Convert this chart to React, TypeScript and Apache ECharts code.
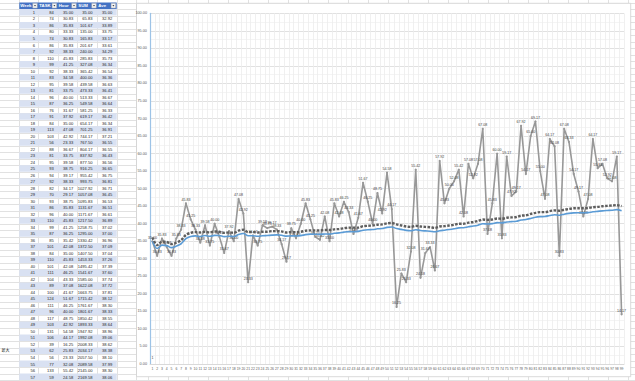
import React, { useEffect, useRef } from "react";
import * as echarts from "echarts";

// ---------- data ----------
const weeks = Array.from({ length: 99 }, (_, i) => String(i + 1));
const headers = ["Week", "TASK", "Hour", "SUM", "Ave"];
const noteText = "最大";

// TASK column (visible table rows 1-58)
const tasks = [
  84, 74, 86, 80, 74, 86, 92, 110, 99, 92,
  83, 95, 81, 96, 87, 76, 91, 84, 113, 103,
  56, 88, 81, 95, 93, 94, 92, 82, 70, 93,
  86, 96, 110, 99, 87, 85, 101, 84, 110, 101,
  111, 104, 89, 100, 124, 111, 96, 117, 103, 131,
  106, 39, 62, 56, 77, 133, 59, 76,
];

// Hour per week (grey line, weeks 1-99)
const hours = [
  35.0, 30.83, 35.83, 33.33, 30.83, 35.83, 38.33, 45.83, 41.25, 38.33,
  34.58, 39.58, 33.75, 40.0, 36.25, 31.67, 37.92, 35.0, 47.08, 42.92,
  23.33, 36.67, 33.75, 39.58, 38.75, 39.17, 38.33, 34.17, 29.17, 38.75,
  35.83, 40.0, 45.83, 41.25, 36.25, 35.42, 42.08, 35.0, 45.83, 42.08,
  46.25, 43.33, 37.08, 41.67, 51.67, 46.25, 40.0, 48.75, 42.92, 54.58,
  44.17, 16.25, 25.83, 23.33, 32.08, 55.42, 24.58, 31.67, 33.33, 26.67,
  57.92, 45.83, 50.0, 52.08, 55.42, 42.08, 57.08, 52.92, 57.08, 67.08,
  37.08, 45.83, 60.0, 35.83, 59.17, 47.92, 49.17, 67.92, 54.17, 65.0,
  69.17, 55.0, 47.08, 64.17, 62.08, 30.83, 67.08, 63.33, 54.17, 49.17,
  42.08, 47.08, 64.17, 55.83, 57.08, 52.92, 52.08, 59.17, 14.17,
];

// SUM column (rows 1-58)
const sums = [
  35.0, 65.83, 101.67, 135.0, 165.83, 201.67, 240.0, 285.83, 327.08, 365.42,
  400.0, 439.58, 473.33, 513.33, 549.58, 581.25, 619.17, 654.17, 701.25, 744.17,
  767.5, 804.17, 837.92, 877.5, 916.25, 955.42, 993.75, 1027.92, 1057.08, 1095.83,
  1131.67, 1171.67, 1217.5, 1258.75, 1295.0, 1330.42, 1372.5, 1407.5, 1453.33, 1495.42,
  1541.67, 1585.0, 1622.08, 1663.75, 1715.42, 1761.67, 1801.67, 1850.42, 1893.33, 1947.92,
  1992.08, 2008.33, 2034.17, 2057.5, 2089.58, 2145.0, 2169.58, 2201.25,
];

// Ave column (rows 1-58) - blue line
const aves = [
  35.0, 32.92, 33.89, 33.75, 33.17, 33.61, 34.29, 35.73, 36.34, 36.54,
  36.36, 36.63, 36.41, 36.67, 36.64, 36.33, 36.42, 36.34, 36.91, 37.21,
  36.55, 36.55, 36.43, 36.56, 36.65, 36.75, 36.81, 36.71, 36.45, 36.53,
  36.51, 36.61, 36.89, 37.02, 37.0, 36.96, 37.09, 37.04, 37.26, 37.39,
  37.6, 37.74, 37.72, 37.81, 38.12, 38.3, 38.33, 38.55, 38.64, 38.96,
  39.06, 38.62, 38.38, 38.1, 37.99, 38.3, 38.06, 37.95,
];
// Ave for weeks 59-99 (blue line continues below the visible table)
const avesTail = [
  37.87, 37.69, 38.02, 38.15, 38.33, 38.55, 38.81, 38.86, 39.13, 39.33,
  39.59, 39.98, 39.94, 40.02, 40.3, 40.24, 40.49, 40.59, 40.7, 41.05,
  41.21, 41.51, 41.85, 42.01, 42.07, 42.34, 42.57, 42.43, 42.72, 42.95,
  43.08, 43.14, 43.13, 43.17, 43.4, 43.53, 43.67, 43.77, 43.86, 44.01,
  43.71,
];

// dark dashed line (weeks 1-99)
const dashed = [
  36.1, 33.9, 34.9, 34.8, 34.2, 34.6, 35.3, 36.8, 37.4, 37.6,
  37.5, 37.7, 37.5, 37.8, 37.7, 37.4, 37.5, 37.4, 38.0, 38.3,
  37.6, 37.6, 37.5, 37.7, 37.7, 37.9, 37.9, 37.8, 37.5, 37.6,
  37.6, 37.7, 38.0, 38.1, 38.1, 38.1, 38.2, 38.2, 38.4, 38.5,
  38.7, 38.9, 38.9, 38.9, 39.3, 39.4, 39.5, 39.7, 39.8, 40.1,
  40.2, 39.8, 39.5, 39.2, 39.1, 39.4, 39.2, 39.1, 39.0, 38.8,
  39.2, 39.3, 39.5, 39.7, 40.0, 40.0, 40.3, 40.5, 40.8, 41.2,
  41.1, 41.2, 41.5, 41.4, 41.7, 41.8, 41.9, 42.3, 42.4, 42.8,
  43.1, 43.3, 43.3, 43.6, 43.8, 43.7, 44.0, 44.2, 44.4, 44.4,
  44.4, 44.5, 44.7, 44.8, 45.0, 45.1, 45.2, 45.3, 45.0,
];

const singleMark = [1];

// ---------- layout (sheet) ----------
const FONT = "'Liberation Sans', 'Noto Sans CJK JP', sans-serif";
const W = 635;
const H = 381;
const colEdges = [19.3, 38.3, 57.7, 77.3, 97.3, 116.7];
const textRight = [35, 53.8, 73.2, 92.6, 112.2];
const rowTop = 2.5;
const rowH = 6.51;

function tableRows(): string[][] {
  return tasks.map((t, i) => [
    weeks[i],
    String(t),
    hours[i].toFixed(2),
    sums[i].toFixed(2),
    aves[i].toFixed(2),
  ]);
}

function buildGraphics() {
  const els: any[] = [];
  els.push({ type: "rect", z: -20, silent: true, shape: { x: 0, y: 0, width: W, height: H }, style: { fill: "#ffffff" } });
  // sheet gridlines
  for (let k = 0; k <= 60; k++) {
    const y = Math.round(rowTop + k * rowH) + 0.5;
    els.push({ type: "line", z: -19, silent: true, shape: { x1: 0, y1: y, x2: W, y2: y }, style: { stroke: "#E1E1E1", lineWidth: 1 } });
  }
  const vCols = [...colEdges, 136.3];
  for (let x = 148.3; x < W; x += 20) vCols.push(x);
  vCols.forEach((x) => {
    const xx = Math.round(x) + 0.5;
    els.push({ type: "line", z: -19, silent: true, shape: { x1: xx, y1: 0, x2: xx, y2: H }, style: { stroke: "#E1E1E1", lineWidth: 1 } });
  });
  // table header
  const hy = rowTop;
  els.push({ type: "rect", z: -18, silent: true, shape: { x: colEdges[0], y: hy, width: colEdges[5] - colEdges[0], height: rowH }, style: { fill: "#4472C4" } });
  headers.forEach((h, i) => {
    els.push({ type: "text", z: -17, silent: true, style: { x: colEdges[i] + 1, y: hy + rowH / 2 + 0.2, text: h, fill: "#ffffff", fontSize: 4.3, fontWeight: "bold", fontFamily: FONT, verticalAlign: "middle", align: "left" } });
    const bx = colEdges[i + 1] - 5.6;
    els.push({ type: "rect", z: -17, silent: true, shape: { x: bx, y: hy + 0.8, width: 4.6, height: 4.8 }, style: { fill: "#F4F4F4", stroke: "#9A9A9A", lineWidth: 0.4 } });
    els.push({ type: "polygon", z: -16, silent: true, shape: { points: [[bx + 1.3, hy + 2.6], [bx + 3.3, hy + 2.6], [bx + 2.3, hy + 3.9]] }, style: { fill: "#444" } });
  });
  // table rows
  tableRows().forEach((row, r) => {
    const y0 = rowTop + (r + 1) * rowH;
    if (r % 2 === 0) {
      els.push({ type: "rect", z: -18, silent: true, shape: { x: colEdges[0], y: y0, width: colEdges[5] - colEdges[0], height: rowH }, style: { fill: "#D9E1F2" } });
    }
    row.forEach((t, c) => {
      els.push({ type: "text", z: -17, silent: true, style: { x: textRight[c], y: y0 + rowH / 2 + 0.2, text: t, fill: "#262626", fontSize: 4.1, fontFamily: FONT, align: "right", verticalAlign: "middle" } });
    });
  });
  // note in column A (row 53)
  els.push({ type: "text", z: -17, silent: true, style: { x: 1.5, y: rowTop + 53 * rowH + rowH / 2, text: noteText, fill: "#262626", fontSize: 4, fontFamily: FONT, align: "left", verticalAlign: "middle" } });
  // chart area
  els.push({ type: "rect", z: -5, silent: true, shape: { x: 136.5, y: 3.3, width: 494.2, height: 373.4 }, style: { fill: "#ffffff", stroke: "#CFCFCF", lineWidth: 0.8 } });
  return els;
}

function buildOption(): any {
  const aveLine = [...aves, ...avesTail];
  const markData = weeks.map((_, i) => (i < singleMark.length ? singleMark[i] : null));
  return {
    animation: false,
    backgroundColor: "transparent",
    textStyle: { fontFamily: FONT },
    graphic: { elements: buildGraphics() },
    grid: { left: 150, right: 11, top: 13.3, bottom: 17, containLabel: false },
    xAxis: {
      type: "category",
      data: weeks,
      boundaryGap: true,
      axisLine: { show: true, lineStyle: { color: "#D9D9D9", width: 1 } },
      axisTick: { show: false },
      axisLabel: { interval: 0, fontSize: 3.4, color: "#595959", margin: 3.5, fontFamily: FONT },
      splitLine: { show: true, interval: 0, lineStyle: { color: "#ECECEC", width: 0.8 } },
    },
    yAxis: {
      type: "value",
      min: 0,
      max: 100,
      interval: 5,
      axisLine: { show: true, lineStyle: { color: "#9DC3E6", width: 1.2 } },
      axisTick: { show: false },
      axisLabel: { fontSize: 3.8, color: "#595959", margin: 3, fontFamily: FONT, formatter: (v: number) => v.toFixed(2) },
      splitLine: { show: true, lineStyle: { color: "#D9D9D9", width: 0.8 } },
      minorTick: { show: false, splitNumber: 2 },
      minorSplitLine: { show: true, lineStyle: { color: "#EDEDED", width: 0.6 } },
    },
    series: [
      {
        name: "Hour",
        type: "line",
        data: hours,
        z: 3,
        symbol: "circle",
        symbolSize: 2.2,
        itemStyle: { color: "#989898" },
        lineStyle: { color: "#989898", width: 1.6 },
        label: {
          show: true,
          position: "top",
          distance: 0.8,
          fontSize: 3.6,
          color: "#404040",
          fontFamily: FONT,
          formatter: (p: any) => Number(p.value).toFixed(2),
        },
      },
      {
        name: "Ave",
        type: "line",
        data: aveLine,
        z: 4,
        smooth: 0.3,
        symbol: "none",
        lineStyle: { color: "#5B9BD5", width: 1.6 },
      },
      {
        name: "Trend",
        type: "line",
        data: dashed,
        z: 5,
        smooth: 0.3,
        symbol: "none",
        lineStyle: { color: "#5E5E5E", width: 2.4, type: [2.6, 1.4] },
      },
      {
        name: "Week",
        type: "line",
        data: markData,
        z: 5,
        symbol: "circle",
        symbolSize: 1,
        itemStyle: { color: "rgba(0,0,0,0)" },
        lineStyle: { width: 0 },
        label: { show: true, position: "top", distance: 0.5, fontSize: 3.6, color: "#404040", fontFamily: FONT },
      },
    ],
  };
}

export default function App() {
  const ref = useRef<HTMLDivElement>(null);
  useEffect(() => {
    if (!ref.current) return;
    const chart = echarts.init(ref.current, null, { renderer: "svg" });
    chart.setOption(buildOption());
    return () => chart.dispose();
  }, []);
  return (
    <div
      ref={ref}
      style={{ position: "fixed", left: 0, top: 0, width: W, height: H, background: "#ffffff" }}
    />
  );
}
